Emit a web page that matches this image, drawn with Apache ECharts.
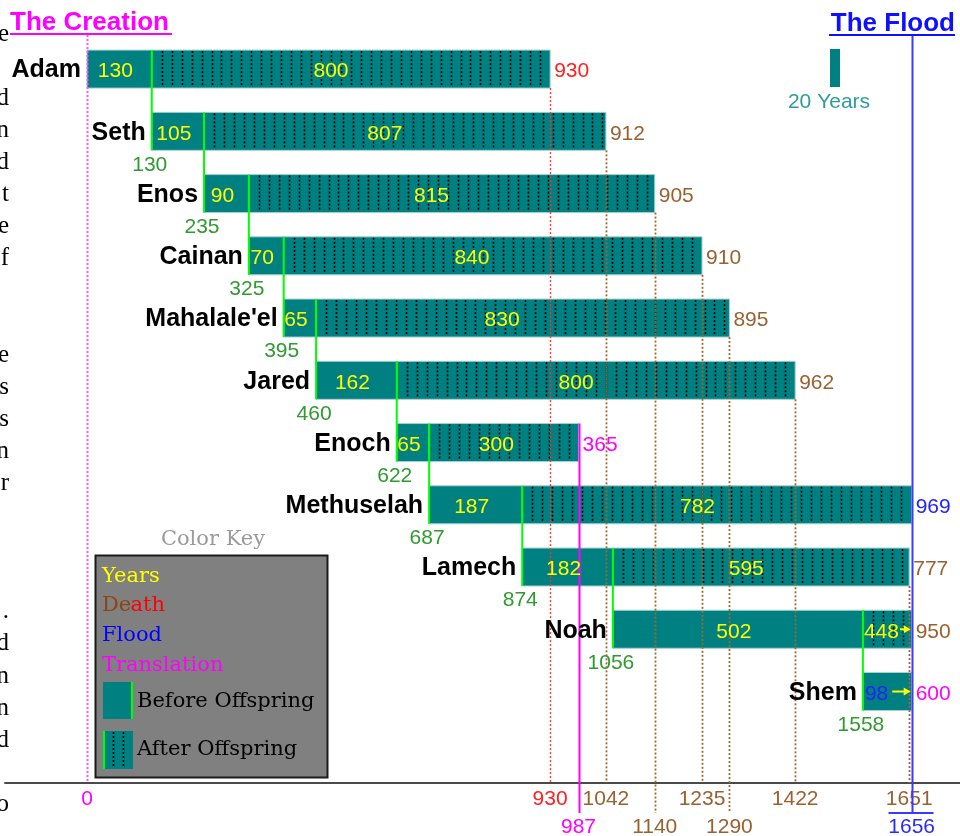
<!DOCTYPE html>
<html><head><meta charset="utf-8">
<script src="https://cdn.jsdelivr.net/npm/echarts@6/dist/echarts.min.js"></script>
<style>html,body{margin:0;padding:0;background:#fff}#c{width:960px;height:836px}</style>
</head><body><div id="c"></div>
<script>
// ---------------- data ----------------
const names = ["Adam", "Seth", "Enos", "Cainan", "Mahalale'el", "Jared", "Enoch", "Methuselah", "Lamech", "Noah", "Shem"];
const born = [0, 130, 235, 325, 395, 460, 622, 687, 874, 1056, 1558];
const yearsBefore = [130, 105, 90, 70, 65, 162, 65, 187, 182, 502, 98];
const yearsAfter = [800, 807, 815, 840, 830, 800, 300, 782, 595, 448, null];
const lifespan = [930, 912, 905, 910, 895, 962, 365, 969, 777, 950, 600];
const creationYear = 0;
const floodYear = 1656;
const axisYears = [0, 930, 987, 1042, 1140, 1235, 1290, 1422, 1651, 1656];
const keyLabels = ["Years", "Death", "Flood", "Translation", "Before Offspring", "After Offspring"];
const scaleLabel = "20 Years";
const marginLetters = [["e",0],["d",2],["n",3],["d",4],["t",5],["e",6],["f",7],["e",10],["s",11],["s",12],["n",13],["r",14],[".",18],["d",19],["n",20],["n",21],["d",22],["o",24]];

// ---------------- style ----------------
const TEAL = '#008080', EDGE = '#a9cfcf', YELLOW = '#ffff00', GREEN_LINE = '#00ff00', GREEN_TXT = '#2f9a2f';
const BROWN = '#9a6130', RED = '#ff2020', MAGENTA = '#ff00ff', BLUE = '#2323ff';
const endColor = [RED, BROWN, BROWN, BROWN, BROWN, BROWN, MAGENTA, BLUE, BROWN, BROWN, MAGENTA];
const NAME_FONT = 'bold 25px "Liberation Sans", Arial, sans-serif';
const NUM_FONT = '21px "Liberation Sans", Arial, sans-serif';
const SERIF = '21px "DejaVu Serif", serif';
const BAR_H = 38;
const X_MIN = -164.66, X_MAX = 1753.01;
const Y_MIN = -1.1102, Y_MAX = 11.470;

// axis label rows (stagger labels that are too close)
const axisRow = [];
(function(){ let last = -1e9; axisYears.forEach(y => { if (y - last >= 100) { axisRow.push(0); last = y; } else axisRow.push(1); }); })();

function txt(text, x, y, fill, font, align) {
  return {type:'text', style:{text:String(text), x:x, y:y, fill:fill, font:font, align:align || 'left', verticalAlign:'middle'}};
}
function ln(x1, y1, x2, y2, stroke, w, dash) {
  return {type:'line', shape:{x1:x1, y1:y1, x2:x2, y2:y2}, style:{stroke:stroke, lineWidth:w, lineDash:dash || null}};
}
function arrow(xa, xb, y, color) {
  return [ln(xa, y, xb - 5, y, color, 2),
    {type:'polygon', shape:{points:[[xb, y], [xb - 7, y - 4], [xb - 7, y + 4]]}, style:{fill:color}}];
}
function geom(i, api) {
  const b = born[i];
  const death = b + lifespan[i];
  const off = Math.min(b + yearsBefore[i], floodYear);
  const end = Math.min(death, floodYear);
  const p0 = api.coord([b, i]);
  return {b, off, end, death, x0:p0[0], yc:p0[1], top:p0[1] - BAR_H / 2, bot:p0[1] + BAR_H / 2,
    xOff:api.coord([off, i])[0], xEnd:api.coord([end, i])[0]};
}

function renderBars(params, api) {
  const i = params.dataIndex, g = geom(i, api), ch = [];
  ch.push({type:'rect', shape:{x:g.x0, y:g.top, width:g.xOff - g.x0, height:BAR_H}, style:{fill:TEAL, stroke:EDGE, lineWidth:1}});
  if (g.end > g.off) {
    ch.push({type:'rect', shape:{x:g.xOff, y:g.top, width:g.xEnd - g.xOff, height:BAR_H}, style:{fill:TEAL, stroke:EDGE, lineWidth:1}});
    for (let yr = g.off + 20; yr < g.end - 2; yr += 20) {
      const x = Math.round(api.coord([yr, i])[0]) + 0.5;
      ch.push(ln(x, g.top + 1, x, g.bot - 1, '#000', 1.6, [2, 2]));
    }
  }
  return {type:'group', children:ch};
}

function renderGuides(params, api) {
  const i = params.dataIndex, g = geom(i, api), ch = [];
  const axisY = api.coord([0, Y_MAX])[1];
  if (g.death < floodYear) {
    const row = axisRow[axisYears.indexOf(g.death)] || 0;
    const yEnd = axisY + (row ? 30 : 0);
    const x = Math.round(g.xEnd) + 0.5;
    if (endColor[i] === MAGENTA) ch.push(ln(x, g.top, x, yEnd, MAGENTA, 2));
    else ch.push(ln(x, g.bot, x, yEnd, endColor[i] === RED ? '#ff3030' : '#a0682f', endColor[i] === RED ? 1.4 : 1.8, [2, 2]));
  }
  if (i < names.length - 1) {
    const offYear = born[i] + yearsBefore[i];
    const x = api.coord([offYear, i])[0];
    const childBot = api.coord([offYear, i + 1])[1] + BAR_H / 2;
    ch.push(ln(x, g.top, x, childBot, GREEN_LINE, 2));
  }
  return {type:'group', children:ch};
}

function renderTexts(params, api) {
  const i = params.dataIndex, g = geom(i, api), ch = [];
  const ty = g.yc + 2.5;
  ch.push(txt(names[i], g.x0 - 6, g.yc + 1.5, '#000', NAME_FONT, 'right'));
  const bLabel = String(yearsBefore[i]);
  if (g.off >= floodYear && g.death > floodYear) {
    ch.push(txt(bLabel, g.x0 + 2, ty, BLUE, NUM_FONT, 'left'));
    ch.push(...arrow(g.x0 + 2 + bLabel.length * 11.7 + 4, g.xEnd - 1, g.yc, YELLOW));
  } else {
    ch.push(txt(bLabel, (g.x0 + g.xOff) / 2 - 4, ty, YELLOW, NUM_FONT, 'center'));
  }
  if (yearsAfter[i] != null) {
    const aLabel = String(yearsAfter[i]);
    if (g.death > floodYear) {
      ch.push(txt(aLabel, g.xOff + 1, ty, YELLOW, NUM_FONT, 'left'));
      ch.push(...arrow(g.xOff + 1 + aLabel.length * 11.7 + 1, g.xEnd - 1, g.yc, YELLOW));
    } else {
      ch.push(txt(aLabel, g.xOff + 0.45 * (g.xEnd - g.xOff), ty, YELLOW, NUM_FONT, 'center'));
    }
  }
  ch.push(txt(lifespan[i], g.xEnd + 4, ty, endColor[i], NUM_FONT, 'left'));
  if (i > 0) ch.push(txt(born[i], g.x0 - 2, g.bot + 14.5, GREEN_TXT, NUM_FONT, 'center'));
  return {type:'group', children:ch};
}

function renderAxisMarks(params, api) {
  const k = params.dataIndex, year = axisYears[k], ch = [];
  const p = api.coord([year, Y_MAX]);
  const x = Math.round(p[0]) + 0.5, axisY = p[1];
  let color = BROWN;
  if (year === creationYear) color = MAGENTA;
  else if (year === floodYear) color = BLUE;
  else { const idx = born.findIndex((b, i) => b + lifespan[i] === year); if (idx >= 0) color = endColor[idx]; }
  if (year === creationYear) ch.push(ln(x, 35, x, axisY, '#ff55ff', 2, [2, 2]));
  if (year === floodYear) {
    ch.push(ln(x, 36, x, axisY + 30, '#3a3aff', 2));
    ch.push(ln(x - 24, axisY + 30, x + 21, axisY + 30, '#3a3aff', 2));
  }
  const ly = axisY + (axisRow[k] ? 44 : 16);
  ch.push(txt(year, p[0], ly, color === BLUE ? '#2a2aff' : color, NUM_FONT, 'center'));
  return {type:'group', children:ch};
}

// ---------------- decorations (titles, key) ----------------
const graphics = [];
marginLetters.forEach(([ch, k]) => graphics.push({type:'text', x:9, y:34 + 32.1 * k, z:1,
  style:{text:ch, font:'25px "Liberation Serif", serif', fill:'#000', align:'right', verticalAlign:'middle'}}));
graphics.push({type:'text', x:10, y:23, style:{text:'The Creation', font:'bold 26px "Liberation Sans", Arial', fill:MAGENTA, verticalAlign:'middle'}});
graphics.push({type:'line', shape:{x1:10, y1:34, x2:172, y2:34}, style:{stroke:MAGENTA, lineWidth:2}});
graphics.push({type:'text', x:955, y:24, style:{text:'The Flood', font:'bold 26px "Liberation Sans", Arial', fill:'#1010ff', align:'right', verticalAlign:'middle'}});
graphics.push({type:'line', shape:{x1:829, y1:35, x2:955, y2:35}, style:{stroke:'#1010ff', lineWidth:2}});
graphics.push({type:'rect', shape:{x:830, y:49, width:10, height:38}, style:{fill:TEAL}});
graphics.push({type:'text', x:829, y:102, style:{text:scaleLabel, font:NUM_FONT, fill:'#2f9c9c', align:'center', verticalAlign:'middle'}});
graphics.push({type:'text', x:213, y:540, style:{text:'Color Key', font:SERIF, fill:'#9a9a9a', align:'center', verticalAlign:'middle'}});
graphics.push({type:'rect', shape:{x:95.5, y:555.5, width:232, height:222}, style:{fill:'#808080', stroke:'#1a1a1a', lineWidth:2}});
graphics.push({type:'text', x:102, y:577, style:{text:keyLabels[0], font:SERIF, fill:YELLOW, verticalAlign:'middle'}});
graphics.push({type:'text', x:102, y:606, style:{text:keyLabels[1].slice(0, 2), font:SERIF, fill:'#8b4513', verticalAlign:'middle'}});
graphics.push({type:'text', x:130.5, y:606, style:{text:keyLabels[1].slice(2), font:SERIF, fill:'#ff0000', verticalAlign:'middle'}});
graphics.push({type:'text', x:102, y:636, style:{text:keyLabels[2], font:SERIF, fill:'#0000ff', verticalAlign:'middle'}});
graphics.push({type:'text', x:102, y:666, style:{text:keyLabels[3], font:SERIF, fill:MAGENTA, verticalAlign:'middle'}});
graphics.push({type:'rect', shape:{x:103, y:682, width:30, height:37}, style:{fill:TEAL}});
graphics.push({type:'line', shape:{x1:132, y1:682, x2:132, y2:719}, style:{stroke:GREEN_LINE, lineWidth:2}});
graphics.push({type:'text', x:137, y:702, style:{text:keyLabels[4], font:SERIF, fill:'#000', verticalAlign:'middle'}});
graphics.push({type:'rect', shape:{x:103, y:731, width:30, height:38}, style:{fill:TEAL}});
graphics.push({type:'line', shape:{x1:104, y1:731, x2:104, y2:769}, style:{stroke:GREEN_LINE, lineWidth:2}});
graphics.push({type:'line', shape:{x1:113.5, y1:732, x2:113.5, y2:768}, style:{stroke:'#000', lineWidth:1.6, lineDash:[2, 2]}});
graphics.push({type:'line', shape:{x1:123.5, y1:732, x2:123.5, y2:768}, style:{stroke:'#000', lineWidth:1.6, lineDash:[2, 2]}});
graphics.push({type:'text', x:137, y:750, style:{text:keyLabels[5], font:SERIF, fill:'#000', verticalAlign:'middle'}});

const personData = names.map((n, i) => [born[i], i]);
const chart = echarts.init(document.getElementById('c'), null, {renderer:'canvas', width:960, height:836});
chart.setOption({
  animation:false,
  backgroundColor:'#ffffff',
  grid:{left:5, right:0, top:0, bottom:53},
  xAxis:{type:'value', min:X_MIN, max:X_MAX, axisLine:{show:true, onZero:false, lineStyle:{color:'#4a4a4a', width:2}},
    axisTick:{show:false}, axisLabel:{show:false}, splitLine:{show:false}},
  yAxis:{type:'value', inverse:true, min:Y_MIN, max:Y_MAX, show:false},
  graphic:graphics,
  series:[
    {type:'custom', z:2, renderItem:renderBars, data:personData, clip:false, silent:true},
    {type:'custom', z:3, renderItem:renderGuides, data:personData, clip:false, silent:true},
    {type:'custom', z:3, renderItem:renderAxisMarks, data:axisYears.map(y => [y, Y_MAX]), clip:false, silent:true},
    {type:'custom', z:4, renderItem:renderTexts, data:personData, clip:false, silent:true}
  ]
});
</script>
</body></html>
